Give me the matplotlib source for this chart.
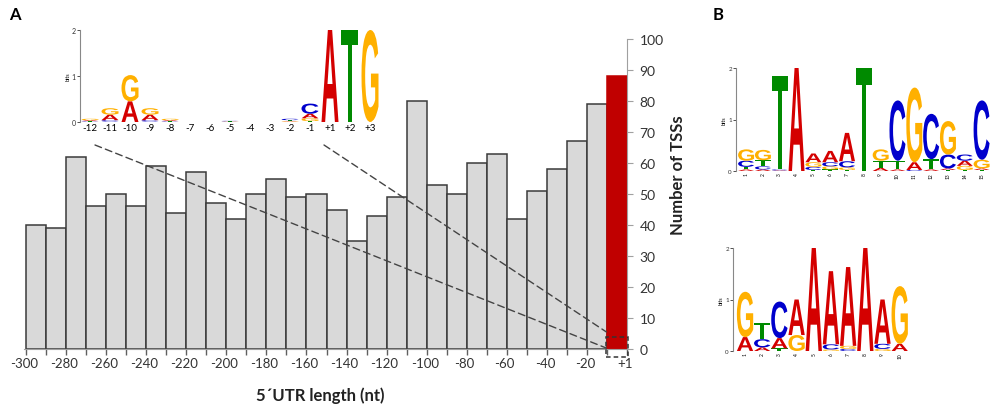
import numpy as np
import matplotlib
matplotlib.use("Agg")
import matplotlib.pyplot as plt
from matplotlib.textpath import TextPath
from matplotlib.patches import PathPatch, Rectangle, ConnectionPatch
from matplotlib.font_manager import FontProperties
import matplotlib.transforms as mtransforms

plt.rcParams['font.family'] = ['Lato', 'DejaVu Sans']

# ---------------- data ----------------
bin_starts = list(range(-300, 0, 10))          # 30 bins of 10 nt
tss_counts = [40, 39, 62, 46, 50, 46, 59, 44, 57, 47,
              42, 50, 55, 49, 50, 45, 35, 43, 49, 80,
              53, 50, 60, 63, 42, 51, 58, 67, 79, 88]
x_tick_labels = ['-300', '-280', '-260', '-240', '-220', '-200', '-180', '-160',
                 '-140', '-120', '-100', '-80', '-60', '-40', '-20', '+1']

# inset logo (positions -12..+3), bits per base
inset_pos = ['-12', '-11', '-10', '-9', '-8', '-7', '-6', '-5', '-4', '-3', '-2', '-1', '+1', '+2', '+3']
inset_A = [0.02, 0.12, 0.45, 0.12, 0.02, 0, 0, 0.005, 0, 0, 0.01, 0.10, 2.0, 0, 0]
inset_C = [0.01, 0.03, 0.00, 0.03, 0.01, 0, 0, 0.010, 0, 0, 0.03, 0.22, 0, 0, 0]
inset_G = [0.03, 0.14, 0.57, 0.14, 0.03, 0, 0, 0.005, 0, 0, 0.01, 0.06, 0, 0, 2.0]
inset_T = [0.01, 0.01, 0.00, 0.01, 0.01, 0, 0, 0.005, 0, 0, 0.02, 0.02, 0, 2.0, 0]

# panel B, upper motif (15 positions)
m1_A = [0.03, 0.03, 0.01, 2.00, 0.17, 0.22, 0.55, 0.00, 0.06, 0.03, 0.15, 0.03, 0.03, 0.10, 0.03]
m1_C = [0.12, 0.06, 0.02, 0.00, 0.06, 0.08, 0.12, 0.00, 0.00, 1.17, 0.02, 0.88, 0.27, 0.12, 1.15]
m1_G = [0.22, 0.20, 0.00, 0.00, 0.09, 0.06, 0.05, 0.00, 0.22, 0.00, 1.45, 0.00, 0.65, 0.08, 0.17]
m1_T = [0.05, 0.12, 1.82, 0.00, 0.02, 0.03, 0.02, 2.00, 0.14, 0.17, 0.00, 0.20, 0.02, 0.02, 0.02]

# panel B, lower motif (10 positions)
m2_A = [0.27, 0.07, 0.20, 0.69, 2.00, 1.42, 1.53, 2.00, 0.86, 0.14]
m2_C = [0.00, 0.16, 0.71, 0.00, 0.00, 0.10, 0.04, 0.00, 0.10, 0.00]
m2_G = [0.88, 0.00, 0.00, 0.31, 0.00, 0.03, 0.06, 0.00, 0.04, 1.12]
m2_T = [0.00, 0.32, 0.05, 0.00, 0.00, 0.00, 0.00, 0.00, 0.00, 0.00]

BASE_COLORS = {'A': '#D40000', 'C': '#0000CC', 'G': '#FFB000', 'T': '#008A00'}
LOGO_FP = FontProperties(family='Liberation Sans', weight='bold')


def draw_letter(ax, letter, x, y0, w, h, color):
    if h <= 0:
        return
    tp = TextPath((0, 0), letter, size=1, prop=LOGO_FP)
    bb = tp.get_extents()
    t = (mtransforms.Affine2D().translate(-bb.x0, -bb.y0)
         .scale(w / bb.width, h / bb.height).translate(x - w / 2, y0))
    ax.add_patch(PathPatch(t.transform_path(tp), fc=color, ec='none', lw=0))


def draw_logo(ax, xs, A, C, G, T, width):
    for i, x in enumerate(xs):
        stack = sorted([('A', A[i]), ('C', C[i]), ('G', G[i]), ('T', T[i])], key=lambda p: p[1])
        y = 0.0
        for letter, h in stack:
            draw_letter(ax, letter, x, y, width, h, BASE_COLORS[letter])
            y += h


def style_logo(ax, n_labels, tick_fs, label_fs, xlabels, xlab_rot, xlab_fs):
    ax.set_ylim(0, 2)
    ax.set_yticks([0, 1, 2])
    ax.tick_params(axis='y', labelsize=tick_fs, length=2, width=0.6, pad=1, colors='#333333')
    ax.set_ylabel('bits', fontsize=label_fs, labelpad=1)
    for s in ['top', 'right', 'bottom']:
        ax.spines[s].set_visible(False)
    ax.spines['left'].set_color('#888888')
    ax.spines['left'].set_linewidth(0.8)
    ax.set_xticks(range(n_labels) if xlabels is inset_pos else range(1, n_labels + 1))
    ax.set_xticklabels(xlabels, rotation=xlab_rot, fontsize=xlab_fs)
    ax.tick_params(axis='x', length=0, pad=1)


fig = plt.figure(figsize=(9.91, 4.14), dpi=100)

# ---------------- main histogram ----------------
ax = fig.add_axes([24 / 991, 1 - 350 / 414, 603 / 991, 310 / 414])
colors = ['#D9D9D9'] * (len(tss_counts) - 1) + ['#C00000']
edges = ['#3A3A3A'] * (len(tss_counts) - 1) + ['#C00000']
ax.bar(bin_starts, tss_counts, width=10, align='edge', color=colors, edgecolor=edges, linewidth=1.1, zorder=2)
ax.set_xlim(-300, 0)
ax.set_ylim(0, 100)
ax.spines['top'].set_visible(False)
ax.spines['left'].set_visible(False)
ax.spines['right'].set_color('#A0A0A0')
ax.spines['bottom'].set_color('#A0A0A0')
ax.yaxis.tick_right()
ax.set_yticks(range(0, 101, 10))
ax.tick_params(axis='y', colors='#A0A0A0', labelcolor='#333333', labelsize=10, length=4, pad=5)
ax.set_xticks([-301 + 20 * k for k in range(len(x_tick_labels))])
ax.set_xticklabels(x_tick_labels, fontsize=9.5, color='#333333')
ax.tick_params(axis='x', length=0, pad=6)
ax.set_xticks(list(range(-300, 1, 10)), minor=True)
ax.tick_params(axis='x', which='minor', length=4, color='#606060', width=1)
fig.text(678 / 991, 1 - 175 / 414, 'Number of TSSs', rotation=90, ha='center', va='center',
         fontsize=12, fontweight='bold', color='#222222')
fig.text(320 / 991, 1 - 396 / 414, '5\u00b4UTR length (nt)', ha='center', va='center',
         fontsize=12, fontweight='bold', color='#222222')

# dashed box at the +1 bin
ax.add_patch(Rectangle((-10.4, -2.6), 10.8, 6.6, fill=False, ls=(0, (3, 2)), lw=1.1,
                       ec='#333333', clip_on=False, zorder=4))

# ---------------- inset logo ----------------
axi = fig.add_axes([80 / 991, 1 - 123 / 414, 300 / 991, 92 / 414])
axi.set_xlim(-0.5, 14.5)
draw_logo(axi, list(range(len(inset_pos))), inset_A, inset_C, inset_G, inset_T, 0.85)
style_logo(axi, len(inset_pos), 5, 4, inset_pos, 0, 7)
axi.patch.set_alpha(0)

for (xa, ya), (xb, yb) in [((0.25, -0.5), (-10.3, 0.3)), ((11.7, -0.5), (-10.3, 5.5))]:
    con = ConnectionPatch(xyA=(xa, ya), coordsA=axi.transData, xyB=(xb, yb), coordsB=ax.transData,
                          ls=(0, (5, 3)), lw=1.0, color='#444444', zorder=5)
    fig.add_artist(con)

# ---------------- panel B logos ----------------
ax1 = fig.add_axes([736 / 991, 1 - 172 / 414, 254 / 991, 103 / 414])
ax1.set_xlim(0.4, 15.5)
draw_logo(ax1, list(range(1, 16)), m1_A, m1_C, m1_G, m1_T, 0.95)
style_logo(ax1, 15, 4.5, 4, [str(i) for i in range(1, 16)], 90, 3.5)
ax1.patch.set_alpha(0)

ax2 = fig.add_axes([733 / 991, 1 - 352 / 414, 177 / 991, 103 / 414])
ax2.set_xlim(0.3, 10.6)
draw_logo(ax2, list(range(1, 11)), m2_A, m2_C, m2_G, m2_T, 0.95)
style_logo(ax2, 10, 4.5, 4, [str(i) for i in range(1, 11)], 90, 3.5)
ax2.patch.set_alpha(0)

fig.text(15 / 991, 1 - 15 / 414, 'A', fontsize=12, fontweight='bold', ha='center', va='center')
fig.text(718 / 991, 1 - 15 / 414, 'B', fontsize=12, fontweight='bold', ha='center', va='center')

fig.savefig('out.png', dpi=100)
